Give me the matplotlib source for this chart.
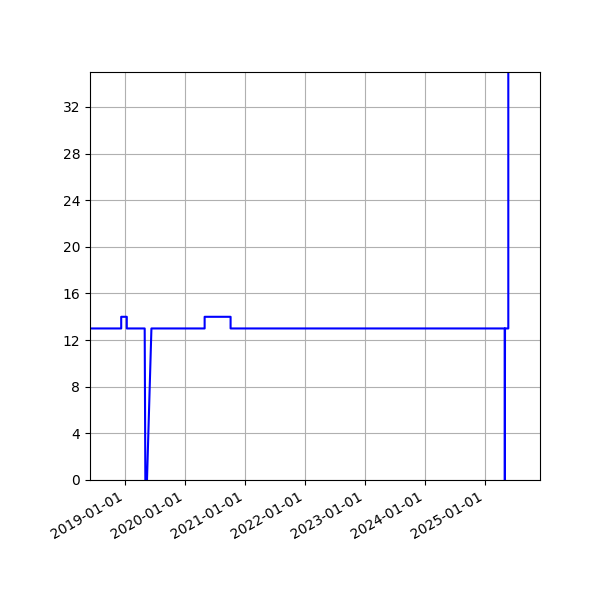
import matplotlib
matplotlib.use('Agg')
import matplotlib.pyplot as plt
import matplotlib.dates as mdates
from matplotlib.ticker import MultipleLocator
import numpy as np

# 数据
dates = np.array([
    '2018-06-01', '2018-12-08', '2018-12-08', '2019-01-11', '2019-01-11',
    '2019-04-30', '2019-05-04', '2019-05-14', '2019-06-10',
    '2020-04-29', '2020-04-29', '2020-10-04', '2020-10-04',
    '2025-04-30', '2025-05-01', '2025-05-02', '2025-05-22', '2025-05-22',
], dtype='datetime64[D]')
values = [
    13, 13, 14, 14, 13,
    13, 0, 0, 13,
    13, 14, 14, 13,
    13, 0, 13, 13, 40,
]

fig, ax = plt.subplots(figsize=(6, 6), dpi=100)
ax.plot(dates, values, color='blue', linewidth=1.5)

ax.set_xlim(np.datetime64('2018-06-01'), np.datetime64('2025-12-01'))
ax.set_ylim(0, 35)
ax.yaxis.set_major_locator(MultipleLocator(4))
ax.xaxis.set_major_locator(mdates.YearLocator())
ax.xaxis.set_major_formatter(mdates.DateFormatter('%Y-%m-%d'))
ax.grid(True)

fig.autofmt_xdate()
fig.subplots_adjust(left=0.15, right=0.9, top=0.88, bottom=0.2)
fig.savefig('out.png', dpi=100)
